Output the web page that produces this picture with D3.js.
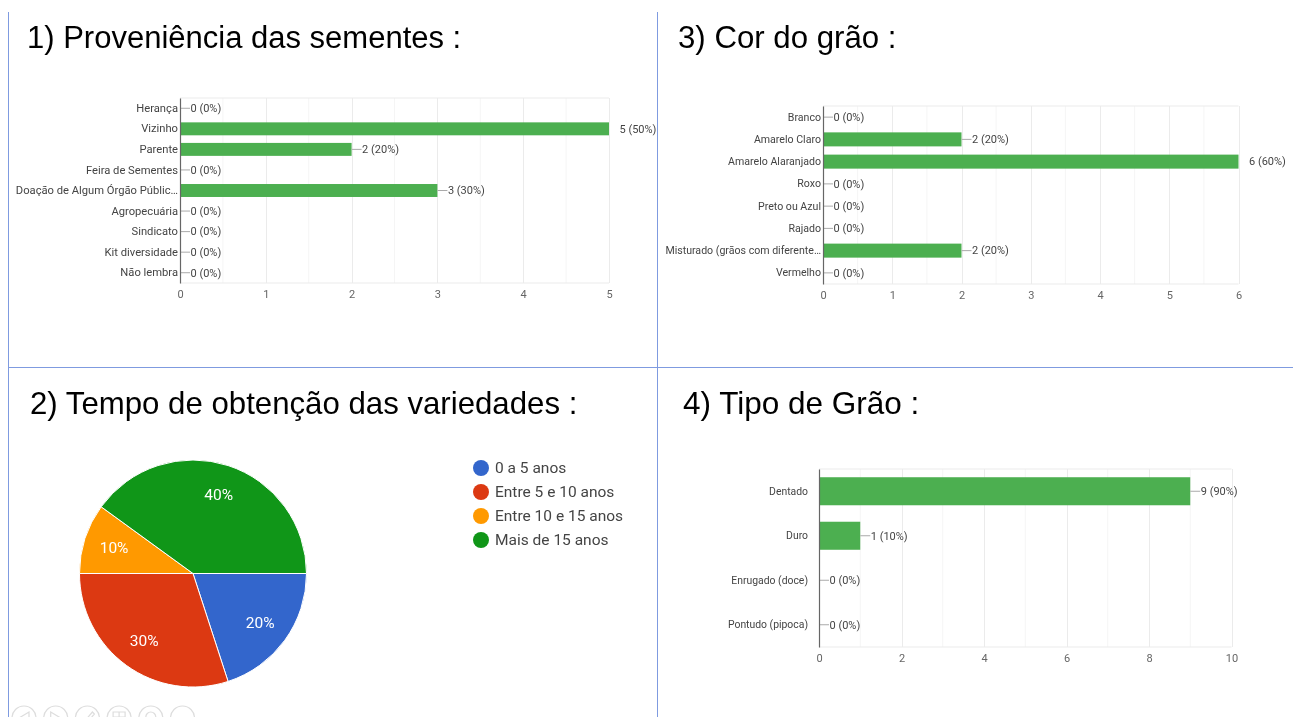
<!DOCTYPE html>
<html>
<head>
<meta charset="utf-8">
<script src="https://cdn.jsdelivr.net/npm/d3@7"></script>
<style>
  body { margin: 0; background: #fff; }
  svg { display: block; filter: blur(0.45px); }
  .tick line { shape-rendering: crispEdges; }
  text { font-family: Roboto, Arial, sans-serif; }
  .title { font-family: "Liberation Sans", Arial, sans-serif; fill: #000; }
</style>
</head>
<body>
<div id="chart"></div>
<script>
// 1) sementes
var seedCategories = ["Herança", "Vizinho", "Parente", "Feira de Sementes", "Doação de Algum Órgão Públic…", "Agropecuária", "Sindicato", "Kit diversidade", "Não lembra"];
var seedValues = [0, 5, 2, 0, 3, 0, 0, 0, 0];
var seedTicks = [0, 1, 2, 3, 4, 5];
var seedMinor = [0.5, 1.5, 2.5, 3.5, 4.5];

// 2) tempo
var timeCategories = ["0 a 5 anos", "Entre 5 e 10 anos", "Entre 10 e 15 anos", "Mais de 15 anos"];
var timeValues = [20, 30, 10, 40];
var timeColors = ["#3366cc", "#dc3912", "#ff9900", "#109618"];

// 3) cor
var colorCategories = ["Branco", "Amarelo Claro", "Amarelo Alaranjado", "Roxo", "Preto ou Azul", "Rajado", "Misturado (grãos com diferente…", "Vermelho"];
var colorValues = [0, 2, 6, 0, 0, 0, 2, 0];
var colorTicks = [0, 1, 2, 3, 4, 5, 6];
var colorMinor = [0.5, 1.5, 2.5, 3.5, 4.5, 5.5];

// 4) tipo
var typeCategories = ["Dentado", "Duro", "Enrugado (doce)", "Pontudo (pipoca)"];
var typeValues = [9, 1, 0, 0];
var typeTicks = [0, 2, 4, 6, 8, 10];
var typeMinor = [1, 3, 5, 7, 9];

var total = 10; // respostas

var svg = d3.select("#chart").append("svg")
    .attr("width", 1293)
    .attr("height", 717);

svg.append("rect").attr("width", 1293).attr("height", 717).attr("fill", "#fff");

// slide borders
var borderColor = "#7f9be0";
svg.append("line").attr("x1", 8.5).attr("x2", 8.5).attr("y1", 12).attr("y2", 717).attr("stroke", borderColor);
svg.append("line").attr("x1", 657.5).attr("x2", 657.5).attr("y1", 12).attr("y2", 717).attr("stroke", borderColor);
svg.append("line").attr("x1", 8).attr("x2", 1293).attr("y1", 367.5).attr("y2", 367.5).attr("stroke", borderColor);

function title(text, x, y, size) {
  svg.append("text").attr("class", "title").attr("x", x).attr("y", y).style("font-size", size + "px").text(text);
}

title("1) Proveniência das sementes :", 27, 48, 31);
title("3) Cor do grão :", 678, 48, 31.2);
title("2) Tempo de obtenção das variedades :", 30, 414, 31.2);
title("4) Tipo de Grão :", 683, 414, 31.5);

function barChart(categories, values, ticks, minor, box, labelPad, catSize) {
  var x = d3.scaleLinear()
      .domain([0, ticks[ticks.length - 1]])
      .range([box.left, box.right]);
  var y = d3.scaleBand()
      .domain(categories)
      .range([box.top, box.bottom])
      .paddingInner(0.37)
      .paddingOuter(0.185);

  var g = svg.append("g");

  // minor gridlines
  g.selectAll(".minor")
      .data(minor)
    .enter().append("line")
      .attr("class", "minor")
      .attr("x1", function(d) { return x(d); })
      .attr("x2", function(d) { return x(d); })
      .attr("y1", box.top)
      .attr("y2", box.bottom)
      .attr("stroke", "#f5f5f5");

  // x axis with major gridlines, tickSize is negative so padding counts from the baseline
  var xAxis = g.append("g")
      .attr("transform", "translate(0," + box.bottom + ")")
      .call(d3.axisBottom(x).tickValues(ticks).tickFormat(d3.format("d")).tickSize(box.top - box.bottom).tickPadding(7));
  xAxis.select(".domain").remove();
  xAxis.selectAll("line").attr("stroke", "#ebebeb");
  xAxis.selectAll("text").attr("fill", "#666").style("font-size", "11px");

  // top and bottom of the plot
  g.selectAll(".edge")
      .data([box.top, box.bottom])
    .enter().append("line")
      .attr("class", "edge")
      .attr("x1", box.left)
      .attr("x2", box.right)
      .attr("y1", function(d) { return d; })
      .attr("y2", function(d) { return d; })
      .attr("stroke", "#ebebeb");

  g.selectAll(".bar")
      .data(values)
    .enter().append("rect")
      .attr("class", "bar")
      .attr("x", x(0))
      .attr("y", function(d, i) { return y(categories[i]); })
      .attr("width", function(d) { return x(d) - x(0); })
      .attr("height", y.bandwidth())
      .attr("fill", "#4caf50");

  // connector stops at the edge of the plot
  g.selectAll(".connector")
      .data(values)
    .enter().append("line")
      .attr("class", "connector")
      .attr("x1", function(d) { return x(d); })
      .attr("x2", function(d) { return Math.min(x(d) + 10, box.right); })
      .attr("y1", function(d, i) { return y(categories[i]) + y.bandwidth() / 2; })
      .attr("y2", function(d, i) { return y(categories[i]) + y.bandwidth() / 2; })
      .attr("stroke", "#aaa");

  g.selectAll(".value")
      .data(values)
    .enter().append("text")
      .attr("class", "value")
      .attr("x", function(d) { return x(d) + 10.5; })
      .attr("y", function(d, i) { return y(categories[i]) + y.bandwidth() / 2; })
      .attr("dy", "0.35em")
      .attr("fill", "#444")
      .style("font-size", "11px")
      .text(function(d) { return d + " (" + Math.round(d / total * 100) + "%)"; });

  var yAxis = g.append("g")
      .attr("transform", "translate(" + box.left + ",0)")
      .call(d3.axisLeft(y).tickSize(0).tickPadding(labelPad));
  yAxis.select(".domain").attr("stroke", "#666").attr("stroke-width", 1.2);
  yAxis.selectAll("text").attr("fill", "#444").style("font-size", catSize + "px");
}

barChart(seedCategories, seedValues, seedTicks, seedMinor, {left: 180, right: 609, top: 98, bottom: 283}, 2, 11.2);
barChart(colorCategories, colorValues, colorTicks, colorMinor, {left: 823, right: 1238.5, top: 106, bottom: 284}, 2, 10.6);
barChart(typeCategories, typeValues, typeTicks, typeMinor, {left: 819, right: 1231.5, top: 469, bottom: 647}, 11, 10.4);

// pie
var pie = d3.pie().sort(null).startAngle(Math.PI / 2).endAngle(Math.PI * 2.5);
var arc = d3.arc().innerRadius(0).outerRadius(113.5);
var labelArc = d3.arc().innerRadius(83).outerRadius(83);

var pieG = svg.append("g").attr("transform", "translate(193,573.5)");

pieG.selectAll("path")
    .data(pie(timeValues))
  .enter().append("path")
    .attr("d", arc)
    .attr("fill", function(d, i) { return timeColors[i]; })
    .attr("stroke", "#fff")
    .attr("stroke-width", 1);

pieG.selectAll("text")
    .data(pie(timeValues))
  .enter().append("text")
    .attr("transform", function(d) { return "translate(" + labelArc.centroid(d) + ")"; })
    .attr("text-anchor", "middle")
    .attr("dy", "0.35em")
    .attr("fill", "#fff")
    .style("font-size", "15.5px")
    .text(function(d) { return d.data + "%"; });

// legend
var legendY = d3.scalePoint().domain(timeCategories).range([468, 540]);

var legend = svg.selectAll(".legend")
    .data(timeCategories)
  .enter().append("g")
    .attr("class", "legend")
    .attr("transform", function(d) { return "translate(481," + legendY(d) + ")"; });

legend.append("circle")
    .attr("r", 8)
    .attr("fill", function(d, i) { return timeColors[i]; });

legend.append("text")
    .attr("x", 14)
    .attr("dy", "0.35em")
    .attr("fill", "#444")
    .style("font-size", "15.5px")
    .text(function(d) { return d; });

// slide show toolbar, cut off by the bottom of the picture
var toolGlyphs = [
  "M5,-6L-5,0L5,6Z",
  "M-5,-6L5,0L-5,6Z",
  "M-6,7L5,-6L7,-4L-4,9Z",
  "M-6,-6H6V6H-6ZM-6,-1H6M0,-6V-1",
  "M-5,-1A5,5 0 1 1 5,-1A5,5 0 1 1 -5,-1",
  "M-5,0h2M-1,0h2M3,0h2"
];

var toolbar = svg.selectAll(".tool")
    .data(toolGlyphs)
  .enter().append("g")
    .attr("class", "tool")
    .attr("transform", function(d, i) { return "translate(" + (24 + i * 31.7) + ",718)"; });

toolbar.append("circle")
    .attr("r", 12)
    .attr("fill", "#fff")
    .attr("stroke", "#ddd")
    .attr("stroke-width", 1.2);

toolbar.append("path")
    .attr("d", function(d) { return d; })
    .attr("fill", "none")
    .attr("stroke", "#ddd")
    .attr("stroke-width", 1.2);
</script>
</body>
</html>
